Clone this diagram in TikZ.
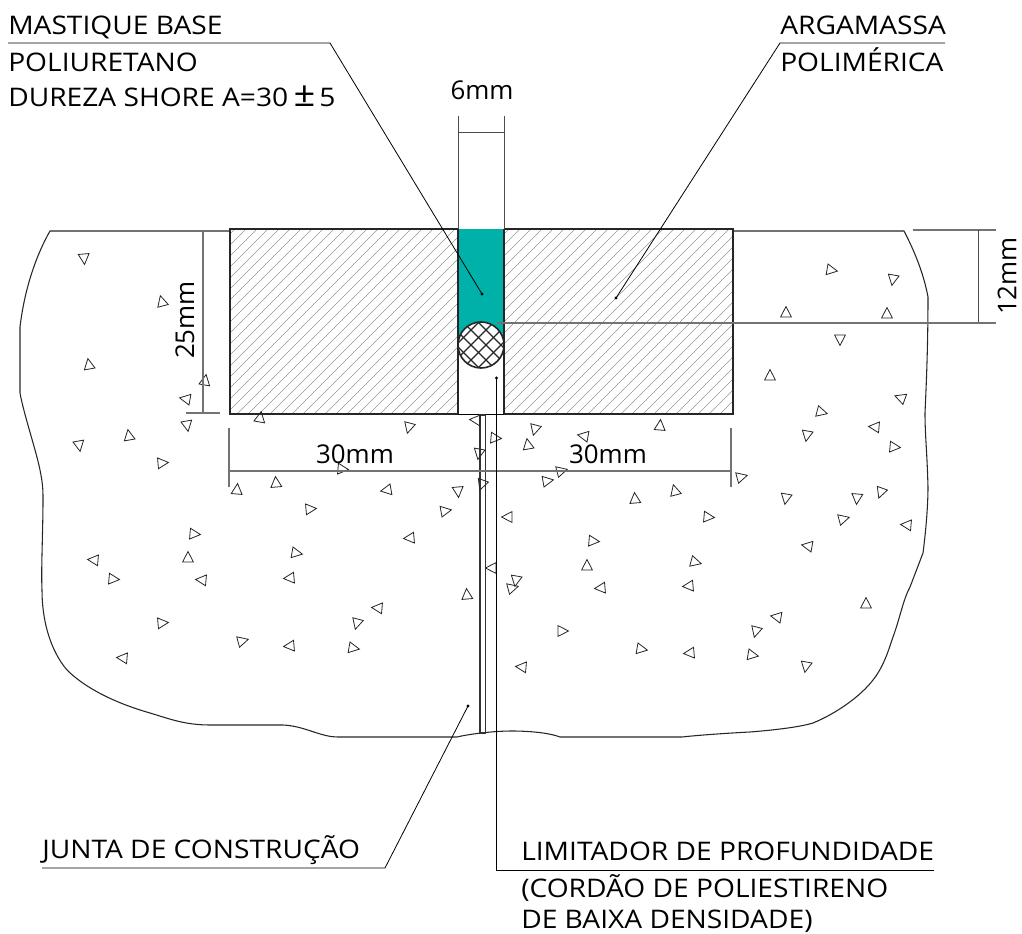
\documentclass[tikz,border=0pt]{standalone}
\usepackage{fontspec}
\setmainfont[FakeStretch=1.1]{Open Sans}
\newfontfamily\dimfont{Open Sans}
\definecolor{teal1}{RGB}{0,177,170}
\definecolor{hatchc}{RGB}{150,150,150}
\tikzset{
  thinl/.style={line width=0.6pt,black},
  dimline/.style={line width=0.9pt,black!55},
  dimthin/.style={line width=0.7pt,black!70},
  heavy/.style={line width=1.5pt,black!85},
  lab/.style={anchor=base west,inner sep=0pt,font=\fontsize{19.2}{20}\selectfont},
  dimlab/.style={inner sep=0pt,font=\dimfont\fontsize{19.4}{20}\selectfont},
  dotc/.style={circle,fill=black,inner sep=0pt,minimum size=2.6pt},
  tri/.style={line width=0.6pt,black!85}
}
\newcommand{\trimark}[3]{\draw[tri,shift={(#1,#2)},rotate=-#3] (-4,-5.4) -- (6.5,0) -- (-4,5.4) -- cycle;}
\begin{document}
\begin{tikzpicture}[x=0.75pt,y=-0.75pt]
\useasboundingbox (0,0) rectangle (1022,934);
% slab outline
\draw[line width=0.8pt,black!85] (230,231) -- (50,231)
  .. controls (38,252) and (25,285) .. (20,327)
  -- (20,393)
  .. controls (24,415) and (36,450) .. (40,470)
  .. controls (43,485) and (43,490) .. (43,500)
  .. controls (43,530) and (41,570) .. (42,590)
  .. controls (42,620) and (50,650) .. (67,670)
  .. controls (85,688) and (115,703) .. (150,713)
  .. controls (170,719) and (185,725) .. (210,725)
  -- (283,725)
  .. controls (305,726) and (320,737) .. (338,737)
  -- (457,737)
  .. controls (465,735) and (490,731) .. (512,731)
  .. controls (530,731) and (550,733) .. (560,737)
  -- (682,737)
  .. controls (700,735) and (730,733) .. (750,732)
  .. controls (775,730) and (800,727) .. (813,723)
  .. controls (835,714) and (860,697) .. (873,680)
  .. controls (885,665) and (890,645) .. (893,637)
  .. controls (900,618) and (903,600) .. (910,587)
  -- (923,553)
  .. controls (926,530) and (928,505) .. (928,487)
  .. controls (927,450) and (925,435) .. (925,413)
  .. controls (926,390) and (928,350) .. (928,297)
  .. controls (924,275) and (915,252) .. (904,231)
  -- (733,231);
% hatched blocks
\begin{scope}
\clip (230,231) rectangle (458,414);
\foreach \k in {0,11,...,460} { \draw[line width=0.45pt,hatchc] (230-190+\k,414+10) -- (230-190+\k+210,214); }
\end{scope}
\begin{scope}
\clip (504,231) rectangle (733,414);
\foreach \k in {0,11,...,460} { \draw[line width=0.45pt,hatchc] (504-190+\k,414+10) -- (504-190+\k+210,214); }
\end{scope}
% joint fill
\fill[teal1] (458,229) rectangle (504,345);
\node[circle,fill=white,draw=none,minimum size=34.5pt,inner sep=0pt] (cord) at (481,345) {};
\begin{scope}
\clip (481,345) circle (23);
\foreach \k in {-70,-55,...,70} {
  \draw[line width=1pt,black!85] (481+\k-40,385) -- (481+\k+40,305);
  \draw[line width=1pt,black!85] (481+\k-40,305) -- (481+\k+40,385);
}
\end{scope}
\draw[line width=1.2pt,black!85] (481,345) circle (23);
% block edges
\draw[heavy] (458,229) -- (230,229) -- (230,414) -- (458,414) -- (458,229);
\draw[heavy] (504,229) -- (733,229) -- (733,414) -- (504,414) -- (504,229);
\draw[line width=2.2pt,black!85] (230,229) -- (458,229);
\draw[line width=2.2pt,black!85] (504,229) -- (733,229);
\draw[thinl] (458,414) -- (504,414);
% construction joint
\draw[line width=1pt,black!80] (480,415) rectangle (485.5,733);
% triangles
\foreach \x/\y/\a in {84/258/85,162/302/-105,89/365/-100,205/381/-80,186/399/190,187/425/80,260/418/-80,79/445/80,129/436/-100,162/463/-5,237/490/-85,276/483/-95,342/469/5,310/509/-5,387/490/170,409/427/105,458/491/85,445/511/-10,410/538/175,476/420/185,479/453/100,482/484/110,495/438/5,528/445/-100,535/429/105,584/436/190,547/481/-10,561/471/-15,508/517/180,492/568/180,516/580/100,512/588/-15,467/595/-95,378/608/185,357/623/105,353/648/10,290/646/175,242/641/-15,123/658/185,162/623/-5,194/534/5,188/558/-90,202/580/185,94/560/185,113/579/5,296/553/10,290/578/175,660/426/-85,635/499/-95,675/491/-105,708/517/5,741/477/-15,786/498/100,807/435/100,821/412/15,770/376/-90,786/313/-90,840/339/90,831/270/10,893/279/100,887/314/-90,901/398/200,875/427/185,894/447/5,881/492/110,857/498/95,843/519/-15,808/546/190,907/525/185,866/604/-90,777/617/190,756/631/105,752/655/10,806/666/100,690/653/175,641/649/10,522/667/185,562/631/0,593/541/5,587/566/-90,601/588/175,695/562/15,689/586/175} { \trimark{\x}{\y}{\a} }
% dimensions
\coordinate (d6a) at (458,116); \coordinate (d6b) at (504,116);
\draw[dimthin] (d6a) -- (458,229); \draw[dimthin] (d6b) -- (504,229);
\draw[dimthin] (458,132) -- (504,132);
\draw[dimline] (186,231) -- (220,231); \draw[dimline] (186,413) -- (220,413); \draw[dimline] (203,231) -- (203,413);
\draw[dimline] (229,428) -- (229,487); \draw[dimline] (731,428) -- (731,487); \draw[dimline] (229,471) -- (731,471);
\draw[dimline] (913,230) -- (996,230); \draw[dimthin] (978,230) -- (978,323); \draw[dimline] (497,323) -- (996,323);
\node[dimlab] (n6) at (482,90) {6mm};
\node[dimlab,rotate=90] (n25) at (185,320) {25mm};
\node[dimlab] (n30a) at (355,454) {30mm};
\node[dimlab] (n30b) at (608,454) {30mm};
\node[dimlab,rotate=90] (n12) at (1007,276) {12mm};
% labels
\node[lab] (l1) at (8,35) {MASTIQUE BASE};
\node[lab] (l2) at (8,71.5) {POLIURETANO};
\node[lab] (l3) at (8,106.5) {DUREZA SHORE A=30\hspace{4pt}{\fontsize{26}{26}\selectfont ±}\hspace{3pt}5};
\node[lab] (r1) at (780,35) {ARGAMASSA};
\node[lab] (r2) at (780,71.5) {POLIMÉRICA};
\node[lab] (j1) at (42,858) {JUNTA DE CONSTRUÇÃO};
\node[lab] (k1) at (521,860) {LIMITADOR DE PROFUNDIDADE};
\node[lab] (k2) at (521,897) {(CORDÃO DE POLIESTIRENO};
\node[lab] (k3) at (521,928.5) {DE BAIXA DENSIDADE)};
% leaders
\node[dotc] (t1) at (482,294) {};
\node[dotc] (t2) at (616,298) {};
\node[dotc] (t3) at (468,706) {};
\node[dotc] (t4) at (496.5,378) {};
\coordinate (c1a) at (8,43); \coordinate (c1b) at (330,43);
\coordinate (c2a) at (945,43); \coordinate (c2b) at (780,43);
\coordinate (c3a) at (42,868); \coordinate (c3b) at (385,868);
\coordinate (c4a) at (934,870); \coordinate (c4b) at (496.5,870);
\draw[thinl] (c1a) -- (c1b) -- (t1.center);
\draw[thinl] (c2a) -- (c2b) -- (t2.center);
\draw[thinl] (c3a) -- (c3b) -- (t3.center);
\draw[thinl] (c4a) -- (c4b) -- (t4.center);
\end{tikzpicture}
\end{document}
